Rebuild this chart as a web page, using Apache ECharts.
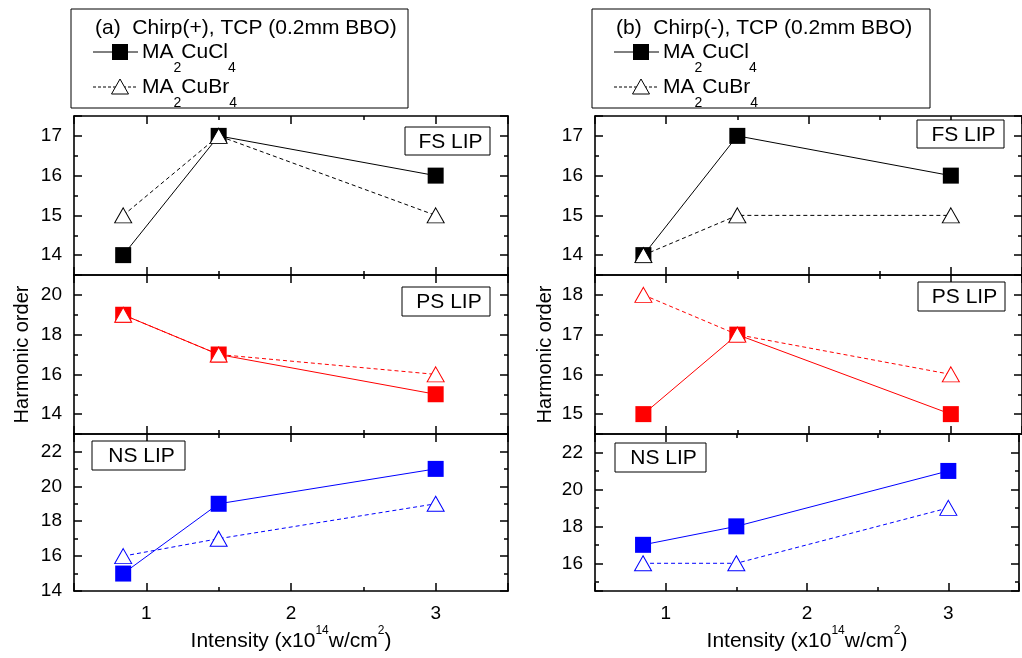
<!DOCTYPE html>
<html><head><meta charset="utf-8">
<script src="https://cdn.jsdelivr.net/npm/echarts@6/dist/echarts.min.js"></script>
<style>html,body{margin:0;padding:0;background:#fff}#c{width:1022px;height:658px}</style>
</head><body><div id="c"></div>
<script>
// x positions (intensity, x10^14 W/cm^2)
const intensity = [0.84, 1.5, 3];
// (a) Chirp(+)
const aFS_Cl = [14, 17, 16];
const aFS_Br = [15, 17, 15];
const aPS_Cl = [19, 17, 15];
const aPS_Br = [19, 17, 16];
const aNS_Cl = [15, 19, 21];
const aNS_Br = [16, 17, 19];
// (b) Chirp(-)
const bFS_Cl = [14, 17, 16];
const bFS_Br = [14, 15, 15];
const bPS_Cl = [15, 17, 15];
const bPS_Br = [18, 17, 16];
const bNS_Cl = [17, 18, 21];
const bNS_Br = [16, 16, 19];
// tick labels
const xTickLabels = [1, 2, 3];
const aFS_ticks = [14, 15, 16, 17];
const aPS_ticks = [14, 16, 18, 20];
const aNS_ticks = [14, 16, 18, 20, 22];
const bFS_ticks = [14, 15, 16, 17];
const bPS_ticks = [15, 16, 17, 18];
const bNS_ticks = [16, 18, 20, 22];
const seriesNames = ['MA2CuCl4', 'MA2CuBr4'];

const FONT = '"Liberation Sans", Arial, Helvetica, sans-serif';
const chart = echarts.init(document.getElementById('c'), null, {renderer: 'canvas'});

const panels = [
  {g: {left: 74, top: 116, width: 434, height: 159}, min: 13.5, max: 17.5, ticks: aFS_ticks, cl: aFS_Cl, br: aFS_Br, color: '#000000', xl: false, yn: false},
  {g: {left: 74, top: 275, width: 434, height: 159}, min: 13, max: 21, ticks: aPS_ticks, cl: aPS_Cl, br: aPS_Br, color: '#ff0000', xl: false, yn: true, gap: 40},
  {g: {left: 74, top: 434, width: 434, height: 159}, min: 14, max: 23, ticks: aNS_ticks, cl: aNS_Cl, br: aNS_Br, color: '#0000ff', xl: true, yn: false},
  {g: {left: 595, top: 116, width: 435, height: 159}, min: 13.5, max: 17.5, ticks: bFS_ticks, cl: bFS_Cl, br: bFS_Br, color: '#000000', xl: false, yn: false},
  {g: {left: 595, top: 275, width: 435, height: 159}, min: 14.5, max: 18.5, ticks: bPS_ticks, cl: bPS_Cl, br: bPS_Br, color: '#ff0000', xl: false, yn: true, gap: 38},
  {g: {left: 595, top: 434, width: 435, height: 159}, min: 14.5, max: 23, ticks: bNS_ticks, cl: bNS_Cl, br: bNS_Br, color: '#0000ff', xl: true, yn: false}
];

const lineCol = '#000';
function common() {
  return {
    axisLine: {show: true, onZero: false, lineStyle: {color: lineCol, width: 1.6}},
    axisTick: {show: true, inside: true, length: 8, lineStyle: {color: lineCol, width: 1.5}},
    minorTick: {show: true, splitNumber: 2, length: 4, lineStyle: {color: lineCol, width: 1.5}},
    splitLine: {show: false},
    minorSplitLine: {show: false}
  };
}

const grids = [], xAxes = [], yAxes = [], series = [];
panels.forEach((p, i) => {
  grids.push(Object.assign({containLabel: false}, p.g));
  xAxes.push(Object.assign(common(), {
    type: 'value', gridIndex: i, position: 'bottom', min: 0.5, max: 3.5, splitNumber: 3,
    axisLabel: {show: p.xl, margin: 13, color: '#000', fontSize: 19, fontFamily: FONT,
      formatter: v => xTickLabels.includes(v) ? String(v) : ''},
    name: p.xl ? 'Intensity (x10{sup|14}w/cm{sup|2})' : '',
    nameLocation: 'middle', nameGap: 34,
    nameTextStyle: {color: '#000', fontSize: 21, fontFamily: FONT, lineHeight: 32,
      rich: {sup: {fontSize: 12, lineHeight: 12, verticalAlign: 'top', fontFamily: FONT, color: '#000'}}}
  }));
  xAxes.push(Object.assign(common(), {
    type: 'value', gridIndex: i, position: 'top', min: 0.5, max: 3.5, splitNumber: 3,
    axisLabel: {show: false}
  }));
  yAxes.push(Object.assign(common(), {
    type: 'value', gridIndex: i, position: 'left', min: p.min, max: p.max,
    axisLabel: {show: true, margin: 12, color: '#000', fontSize: 19, fontFamily: FONT,
      formatter: v => p.ticks.includes(v) ? String(v) : ''},
    name: p.yn ? 'Harmonic order' : '',
    nameLocation: 'middle', nameGap: p.gap || 40,
    nameTextStyle: {color: '#000', fontSize: 20, fontFamily: FONT, lineHeight: 24}
  }));
  yAxes.push(Object.assign(common(), {
    type: 'value', gridIndex: i, position: 'right', min: p.min, max: p.max,
    axisLabel: {show: false}
  }));
  series.push({
    name: seriesNames[0], type: 'line', xAxisIndex: 2 * i, yAxisIndex: 2 * i,
    data: intensity.map((x, k) => [x, p.cl[k]]),
    symbol: 'rect', symbolSize: 16,
    itemStyle: {color: p.color},
    lineStyle: {color: p.color, width: 1, type: 'solid'},
    emphasis: {disabled: true}, animation: false, z: 2
  });
  series.push({
    name: seriesNames[1], type: 'line', xAxisIndex: 2 * i, yAxisIndex: 2 * i,
    data: intensity.map((x, k) => [x, p.br[k]]),
    symbol: 'triangle', symbolSize: [17, 15],
    itemStyle: {color: '#ffffff', borderColor: p.color, borderWidth: 1},
    lineStyle: {color: p.color, width: 1, type: [4, 3]},
    emphasis: {disabled: true}, animation: false, z: 3
  });
});

// legend boxes and panel labels (decoration)
function legend(dx, title, w) {
  const els = [];
  els.push({type: 'rect', shape: {x: 71 + dx, y: 9, width: w, height: 99},
    style: {fill: '#fff', stroke: '#000', lineWidth: 1}});
  els.push({type: 'text', style: {text: title, x: 95 + dx, y: 28, fontSize: 21, fontFamily: FONT,
    fill: '#000', align: 'left', verticalAlign: 'middle'}});
  // row 1: square + solid line
  els.push({type: 'line', shape: {x1: 93 + dx, y1: 52, x2: 138 + dx, y2: 52}, style: {stroke: '#000', lineWidth: 1}});
  els.push({type: 'rect', shape: {x: 112 + dx, y: 44, width: 16, height: 16}, style: {fill: '#000'}});
  els.push({type: 'text', style: {text: 'MA{s|2}CuCl{s|4}', x: 142 + dx, y: 52, fontSize: 21, fontFamily: FONT,
    fill: '#000', align: 'left', verticalAlign: 'middle', lineHeight: 46,
    rich: {s: {fontSize: 14, lineHeight: 14, verticalAlign: 'bottom', fontFamily: FONT, fill: '#000'}}}});
  // row 2: triangle + dashed line
  els.push({type: 'line', shape: {x1: 93 + dx, y1: 87, x2: 138 + dx, y2: 87}, style: {stroke: '#000', lineWidth: 1, lineDash: [3, 2]}});
  els.push({type: 'polygon', shape: {points: [[120 + dx, 79], [111.5 + dx, 94], [128.5 + dx, 94]]},
    style: {fill: '#fff', stroke: '#000', lineWidth: 1}});
  els.push({type: 'text', style: {text: 'MA{s|2}CuBr{s|4}', x: 142 + dx, y: 87, fontSize: 21, fontFamily: FONT,
    fill: '#000', align: 'left', verticalAlign: 'middle', lineHeight: 46,
    rich: {s: {fontSize: 14, lineHeight: 14, verticalAlign: 'bottom', fontFamily: FONT, fill: '#000'}}}});
  return els;
}
function tag(x, y, w, h, text) {
  return [
    {type: 'rect', z: 10, shape: {x: x, y: y, width: w, height: h}, style: {fill: '#fff', stroke: '#000', lineWidth: 1}},
    {type: 'text', z: 11, style: {text: text, x: x + w / 2 + 3, y: y + h / 2 + 1, fontSize: 21, fontFamily: FONT,
      fill: '#000', align: 'center', verticalAlign: 'middle'}}
  ];
}
const graphics = [].concat(
  legend(0, '(a)  Chirp(+), TCP (0.2mm BBO)', 337),
  legend(521, '(b)  Chirp(-), TCP (0.2mm BBO)', 338),
  tag(405, 127, 85, 28, 'FS LIP'),
  tag(402, 287, 88, 29, 'PS LIP'),
  tag(92, 441, 93, 29, 'NS LIP'),
  tag(917, 120, 87, 28, 'FS LIP'),
  tag(918, 282, 87, 29, 'PS LIP'),
  tag(615, 443, 91, 29, 'NS LIP')
);

chart.setOption({
  backgroundColor: '#ffffff',
  animation: false,
  grid: grids,
  xAxis: xAxes,
  yAxis: yAxes,
  series: series,
  graphic: graphics
});
</script>
</body></html>
